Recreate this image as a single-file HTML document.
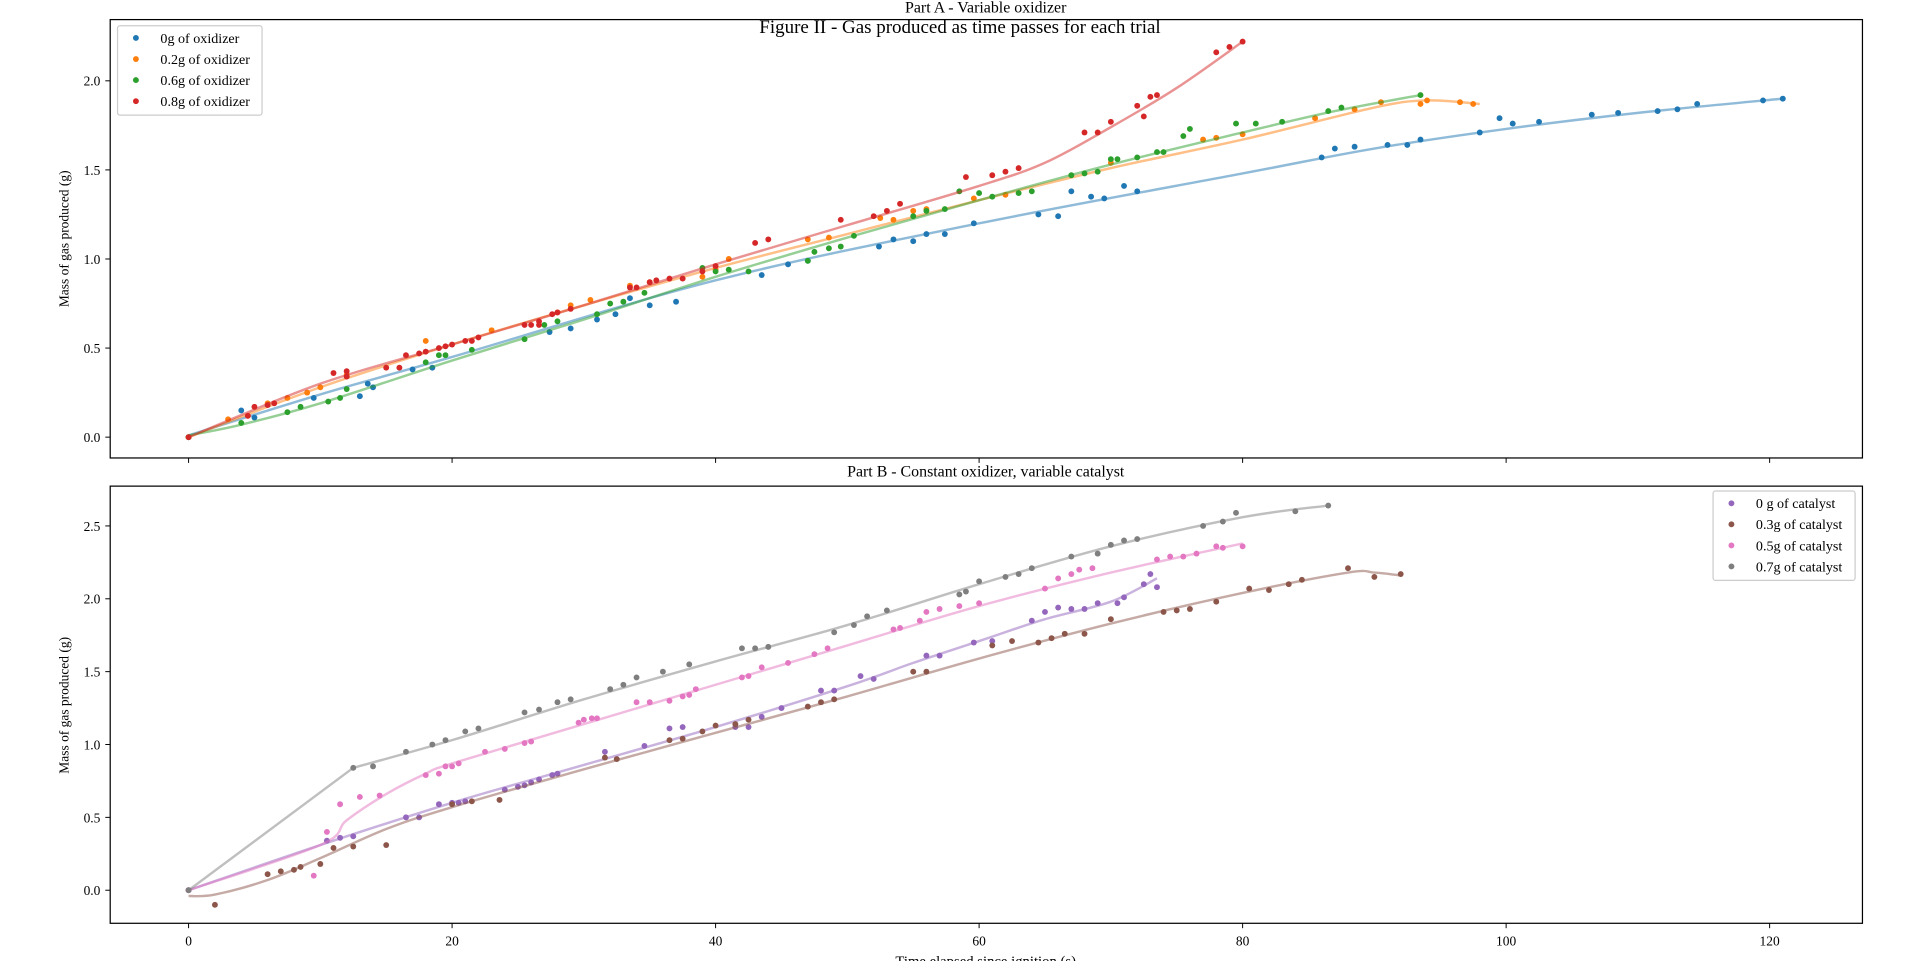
<!DOCTYPE html>
<html><head><meta charset="utf-8"><style>
html,body{margin:0;padding:0;background:#fff;}
svg{display:block;font-family:"Liberation Serif",serif;}
</style></head><body>
<svg id="fig" width="1920" height="961" viewBox="0 0 1568 784.8" preserveAspectRatio="none" xmlns="http://www.w3.org/2000/svg">
<rect width="1568" height="785" fill="#fff"/>
<text x="805" y="10" font-size="13" text-anchor="middle">Part A - Variable oxidizer</text>
<text x="784" y="27" font-size="15.5" text-anchor="middle">Figure II - Gas produced as time passes for each trial</text>
<text x="805" y="389" font-size="13" text-anchor="middle">Part B - Constant oxidizer, variable catalyst</text>
<text x="805" y="789" font-size="12" text-anchor="middle">Time elapsed since ignition (s)</text>
<text transform="translate(56,195) rotate(-90)" font-size="11" text-anchor="middle">Mass of gas produced (g)</text>
<text transform="translate(56,576) rotate(-90)" font-size="11" text-anchor="middle">Mass of gas produced (g)</text>
<g id="plots"></g>
</svg>
<script>
// Panel A data
const aBlueT=[0,4,5,9.5,13,13.6,14,17,18.5,27.4,29,31,32.4,33.5,35,37,43.5,45.5,47,52.4,53.5,55,56,57.4,59.6,64.5,66,67,68.5,69.5,71,72,86,87,88.5,91,92.5,93.5,98,99.5,100.5,102.5,106.5,108.5,111.5,113,114.5,119.5,121];
const aBlueM=[0,0.15,0.11,0.22,0.23,0.30,0.28,0.38,0.39,0.59,0.61,0.66,0.69,0.78,0.74,0.76,0.91,0.97,0.99,1.07,1.11,1.10,1.14,1.14,1.20,1.25,1.24,1.38,1.35,1.34,1.41,1.38,1.57,1.62,1.63,1.64,1.64,1.67,1.71,1.79,1.76,1.77,1.81,1.82,1.83,1.84,1.87,1.89,1.90];
const aBlueFitT=[0,10,20,40,60,80,90,100,110,121];
const aBlueFitM=[0.01,0.24,0.45,0.88,1.20,1.48,1.62,1.73,1.82,1.90];
const aOrT=[0,3,4.5,6,7.5,9,10,12,18,23,28,29,30.5,33.5,35,39,40,41,47,48.6,52.5,53.5,55,56,59.6,62,70,77,78,80,85.5,88.5,90.5,93.5,94,96.5,97.5];
const aOrM=[0,0.10,0.12,0.19,0.22,0.25,0.28,0.35,0.54,0.60,0.70,0.74,0.77,0.85,0.87,0.90,0.94,1.00,1.11,1.12,1.23,1.22,1.27,1.28,1.34,1.36,1.54,1.67,1.68,1.70,1.79,1.84,1.88,1.87,1.89,1.88,1.87];
const aOrFitT=[0,10,20,30,40,50,60,70,80,90,94,98];
const aOrFitM=[0,0.28,0.52,0.74,0.95,1.14,1.33,1.51,1.67,1.85,1.89,1.87];
const aGrT=[0,4,7.5,8.5,10.6,11.5,12,18,19,19.5,21.5,25.5,27,28,31,32,33,34.6,39,40,41,42.5,47,47.5,48.6,49.5,50.5,55,56,57.4,58.5,60,61,63,64,67,68,69,70,70.5,72,73.5,74,75.5,76,79.5,81,83,86.5,87.5,93.5];
const aGrM=[0,0.08,0.14,0.17,0.20,0.22,0.27,0.42,0.46,0.46,0.49,0.55,0.63,0.65,0.69,0.75,0.76,0.81,0.95,0.93,0.94,0.93,0.99,1.04,1.06,1.07,1.13,1.24,1.27,1.28,1.38,1.37,1.35,1.37,1.38,1.47,1.48,1.49,1.56,1.56,1.57,1.60,1.60,1.69,1.73,1.76,1.76,1.77,1.83,1.85,1.92];
const aGrFitT=[0,4,10,20,30,40,50,60,70,80,87,93.5];
const aGrFitM=[0.01,0.07,0.19,0.43,0.66,0.90,1.12,1.33,1.53,1.71,1.83,1.92];
const aRedT=[0,4.5,5,6,6.5,11,12,12,15,16,16.5,17.5,18,19,19.5,20,21,21.5,22,25.5,26,26.6,26.6,27.6,28,29,33.5,34,35,35.5,36.5,37.5,39,40,43,44,49.5,52,53,54,59,61,62,63,68,69,70,72,72.5,73,73.5,78,79,80];
const aRedM=[0,0.12,0.17,0.18,0.19,0.36,0.37,0.34,0.39,0.39,0.46,0.47,0.48,0.50,0.51,0.52,0.54,0.54,0.56,0.63,0.63,0.63,0.65,0.69,0.70,0.72,0.84,0.84,0.87,0.88,0.89,0.89,0.93,0.96,1.09,1.11,1.22,1.24,1.27,1.31,1.46,1.47,1.49,1.51,1.71,1.71,1.77,1.86,1.80,1.91,1.92,2.16,2.19,2.22];
const aRedFitT=[0,10,20,30,40,50,60,65,70,75,80];
const aRedFitM=[0,0.30,0.52,0.74,0.97,1.19,1.41,1.54,1.74,1.96,2.22];
// Panel B data
const bPuT=[0,10.5,11.5,12.5,16.5,17.5,19,20,20.5,21,24,25,25.5,26,26.6,27.6,28,31.6,34.6,36.5,37.5,41.5,42.5,43.5,45,48,49,51,52,56,57,59.6,61,64,65,66,67,68,69,70.5,71,72.5,73,73.5];
const bPuM=[0,0.34,0.36,0.37,0.50,0.50,0.59,0.60,0.60,0.61,0.69,0.71,0.72,0.74,0.76,0.79,0.80,0.95,0.99,1.11,1.12,1.12,1.12,1.19,1.25,1.37,1.37,1.47,1.45,1.61,1.61,1.70,1.71,1.85,1.91,1.94,1.93,1.93,1.97,1.97,2.01,2.10,2.17,2.08];
const bPuFitT=[0,10,20,30,40,50,55,60,65,70,73.5];
const bPuFitM=[0,0.31,0.60,0.86,1.12,1.40,1.56,1.71,1.86,1.98,2.14];
const bBrT=[0,2,6,7,8,8.5,10,11,12.5,15,20,21.5,23.6,31.6,32.5,36.5,37.5,39,40,41.5,42.5,47,48,49,55,56,61,62.5,64.5,65.5,66.5,68,70,74,75,76,78,80.5,82,83.5,84.5,88,90,92];
const bBrM=[0,-0.10,0.11,0.13,0.14,0.16,0.18,0.29,0.30,0.31,0.59,0.61,0.62,0.91,0.90,1.03,1.04,1.09,1.13,1.14,1.17,1.26,1.29,1.31,1.50,1.50,1.68,1.71,1.70,1.73,1.76,1.76,1.86,1.91,1.92,1.93,1.98,2.07,2.06,2.10,2.13,2.21,2.15,2.17];
const bBrFitT=[0,2,6,10,15,20,30,40,50,60,70,80,88,90,92];
const bBrFitM=[-0.04,-0.03,0.07,0.22,0.42,0.57,0.83,1.08,1.33,1.59,1.83,2.04,2.18,2.18,2.16];
const bPkT=[0,9.5,10.5,11.5,13,14.5,18,19,19.5,20,20.5,22.5,24,25.5,26,29.6,30,30.6,31,34,35,36.5,37.5,38,38.5,42,42.5,43.5,45.5,47.5,48.5,53.5,54,55.5,56,57,58.5,60,65,66,67,67.6,68.6,73.5,74.5,75.5,76.5,78,78.5,80];
const bPkM=[0,0.10,0.40,0.59,0.64,0.65,0.79,0.80,0.85,0.85,0.87,0.95,0.97,1.01,1.02,1.15,1.17,1.18,1.18,1.29,1.29,1.30,1.33,1.34,1.38,1.46,1.47,1.53,1.56,1.62,1.66,1.79,1.80,1.85,1.91,1.93,1.95,1.97,2.07,2.14,2.17,2.20,2.21,2.27,2.29,2.29,2.31,2.36,2.35,2.36];
const bPkFitT=[0,10,12,15,18,20,30,40,50,60,70,80];
const bPkFitM=[0,0.31,0.48,0.66,0.80,0.87,1.14,1.41,1.68,1.95,2.18,2.38];
const bGyT=[0,12.5,14,16.5,18.5,19.5,21,22,25.5,26.6,28,29,32,33,34,36,38,42,43,44,49,50.5,51.5,53,58.5,59,60,62,63,64,67,69,70,71,72,77,78.5,79.5,84,86.5];
const bGyM=[0,0.84,0.85,0.95,1.00,1.03,1.09,1.11,1.22,1.24,1.29,1.31,1.38,1.41,1.46,1.50,1.55,1.66,1.66,1.67,1.77,1.82,1.88,1.92,2.03,2.05,2.12,2.15,2.17,2.21,2.29,2.31,2.37,2.40,2.41,2.50,2.53,2.59,2.60,2.64];
const bGyFitT=[0,12.5,20,30,40,50,60,70,80,86.5];
const bGyFitM=[0,0.84,1.03,1.31,1.57,1.82,2.10,2.36,2.56,2.64];
const xTicks=[0,20,40,60,80,100,120];
const aYTicks=[0,0.5,1.0,1.5,2.0];
const bYTicks=[0,0.5,1.0,1.5,2.0,2.5];
const legendA=["0g of oxidizer","0.2g of oxidizer","0.6g of oxidizer","0.8g of oxidizer"];
const legendB=["0 g of catalyst","0.3g of catalyst","0.5g of catalyst","0.7g of catalyst"];

const NS="http://www.w3.org/2000/svg";
const root=document.getElementById('plots');
const X=t=>154+t*10.76;
const YA=m=>357-m*145.5;
const YB=m=>727-m*119;
function mk(tag,attrs,parent){const e=document.createElementNS(NS,tag);for(const k in attrs)e.setAttribute(k,attrs[k]);(parent||root).appendChild(e);return e;}
function smooth(ts,ms,Y,sharpFirst){
  const p=ts.map((t,i)=>[X(t),Y(ms[i])]);
  let d=`M${p[0][0]},${p[0][1]}`;
  for(let i=0;i<p.length-1;i++){
    const p0=p[i-1]||p[i],p1=p[i],p2=p[i+1],p3=p[i+2]||p2;
    if(sharpFirst&&i===0){d+=` L${p2[0]},${p2[1]}`;continue;}
    const q0=(sharpFirst&&i===1)?p1:p0;
    const q3=(sharpFirst&&i===0)?p2:p3;
    const c1=[p1[0]+(p2[0]-q0[0])/6,p1[1]+(p2[1]-q0[1])/6];
    const c2=[p2[0]-(q3[0]-p1[0])/6,p2[1]-(q3[1]-p1[1])/6];
    d+=` C${c1[0]},${c1[1]} ${c2[0]},${c2[1]} ${p2[0]},${p2[1]}`;
  }
  return d;
}
function axes(top,bottom,Y,yt,name,showX){
  const f=mk('rect',{x:90,y:top,width:1431,height:bottom-top,fill:'none',stroke:'#000','stroke-width':1});
  
  
  xTicks.forEach(t=>{
    const l=mk('line',{x1:X(t),x2:X(t),y1:bottom,y2:bottom+4,stroke:'#000','stroke-width':0.8});
    
    
    if(showX){
      const tx=mk('text',{x:X(t),y:bottom+18,'font-size':11,'text-anchor':'middle'});
      tx.textContent=String(t);
      
      
    }
  });
  yt.forEach(v=>{
    const l=mk('line',{x1:86,x2:90,y1:Y(v),y2:Y(v),stroke:'#000','stroke-width':0.8});
    
    
    const tx=mk('text',{x:82,y:Y(v)+4,'font-size':11,'text-anchor':'end'});
    tx.textContent=v.toFixed(1);
    
    
  });
}
function series(ft,fm,pt,pm,Y,color,name,sharp){
  const path=mk('path',{d:smooth(ft,fm,Y,sharp),fill:'none',stroke:color,'stroke-opacity':0.5,'stroke-width':2});
  
  
  pt.forEach((t,i)=>{
    const c=mk('circle',{cx:X(t),cy:Y(pm[i]),r:2.4,fill:color});
    
    
  });
}
function legend(x,y,w,labels,colors,name){
  const g=mk('g',{});
  
  
  mk('rect',{x:x,y:y,width:w,height:73,rx:2,fill:'#fff','fill-opacity':0.8,stroke:'#ccc'},g);
  labels.forEach((lb,i)=>{
    const e=mk('g',{},g);
    
    
    mk('circle',{cx:x+15,cy:y+10+i*17.2,r:2.4,fill:colors[i]},e);
    const t=mk('text',{x:x+35,y:y+14+i*17.2,'font-size':11.5},e);
    t.textContent=lb;
  });
}
axes(16,374,YA,aYTicks,'panel-a',false);
axes(397,754,YB,bYTicks,'panel-b',true);
const cA=['#1f77b4','#ff7f0e','#2ca02c','#d62728'];
const cB=['#9467bd','#8c564b','#e377c2','#7f7f7f'];
series(aBlueFitT,aBlueFitM,aBlueT,aBlueM,YA,cA[0],'oxidizer-0g');
series(aOrFitT,aOrFitM,aOrT,aOrM,YA,cA[1],'oxidizer-0.2g');
series(aGrFitT,aGrFitM,aGrT,aGrM,YA,cA[2],'oxidizer-0.6g');
series(aRedFitT,aRedFitM,aRedT,aRedM,YA,cA[3],'oxidizer-0.8g');
series(bPuFitT,bPuFitM,bPuT,bPuM,YB,cB[0],'catalyst-0g');
series(bBrFitT,bBrFitM,bBrT,bBrM,YB,cB[1],'catalyst-0.3g');
series(bPkFitT,bPkFitM,bPkT,bPkM,YB,cB[2],'catalyst-0.5g');
series(bGyFitT,bGyFitM,bGyT,bGyM,YB,cB[3],'catalyst-0.7g',true);
legend(96,21,118,legendA,cA,'legend-a');
legend(1399,401,116,legendB,cB,'legend-b');
</script>
</body></html>
